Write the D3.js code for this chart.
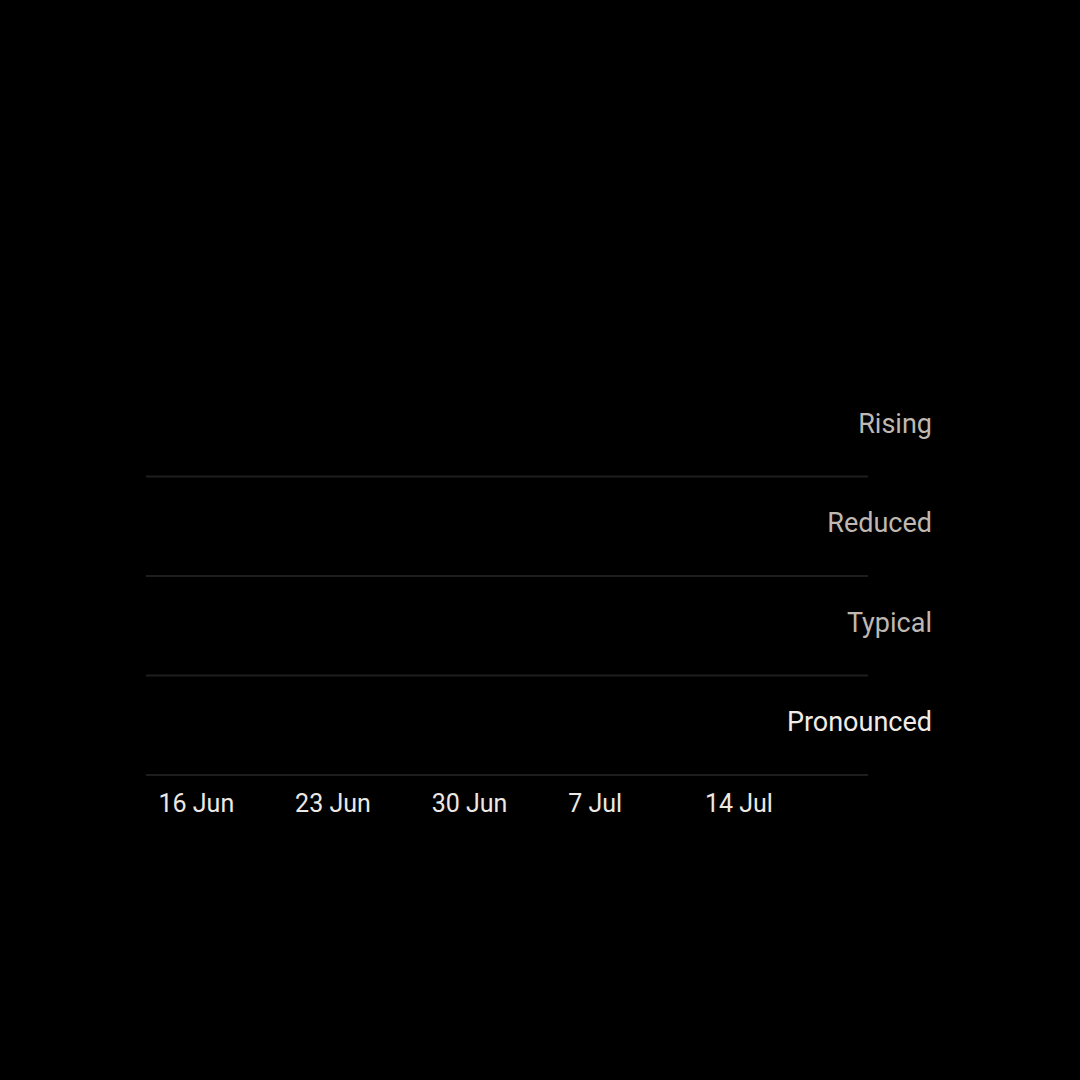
<!DOCTYPE html>
<html>
<head>
<meta charset="utf-8">
<script src="https://cdn.jsdelivr.net/npm/d3@7"></script>
<style>
  html, body { margin: 0; padding: 0; background: #000; }
  svg { display: block; }
</style>
</head>
<body>
<div id="chart"></div>
<script>
// categories, top to bottom
var categories = ["Rising", "Reduced", "Typical", "Pronounced"];
var highlighted = ["Pronounced"];

// time axis
var startDate = "2024-06-16";
var endDate = "2024-07-23";
var tickDates = ["2024-06-16", "2024-06-23", "2024-06-30", "2024-07-07", "2024-07-14"];

var width = 1080,
    height = 1080;

var parseDate = d3.timeParse("%Y-%m-%d");
var formatTick = d3.timeFormat("%-d %b");

var svg = d3.select("#chart")
  .append("svg")
  .attr("width", width)
  .attr("height", height)
  .style("background", "#000");

var x = d3.scaleTime()
  .domain([parseDate(startDate), parseDate(endDate)])
  .range([146, 868]);

var y = d3.scaleBand()
  .domain(categories)
  .range([377, 775])
  .padding(0);

// row separators at the bottom of each band
svg.append("g")
  .selectAll("line")
  .data(categories)
  .enter()
  .append("line")
  .attr("x1", x.range()[0])
  .attr("x2", x.range()[1])
  .attr("y1", d => y(d) + y.bandwidth())
  .attr("y2", d => y(d) + y.bandwidth())
  .style("stroke", "#1e1e1e")
  .style("stroke-width", 2);

// category labels on the right
svg.append("g")
  .selectAll("text")
  .data(categories)
  .enter()
  .append("text")
  .text(d => d)
  .attr("x", 932)
  .attr("y", d => y(d) + y.bandwidth() / 2)
  .attr("dy", "0.22em")
  .attr("text-anchor", "end")
  .attr("font-family", "Roboto, sans-serif")
  .attr("font-size", "27px")
  .attr("fill", d => highlighted.indexOf(d) >= 0 ? "#f0ece8" : "#bfb8b2");

// x axis
var xAxis = d3.axisBottom(x)
  .tickValues(tickDates.map(parseDate))
  .tickFormat(formatTick)
  .tickSize(0)
  .tickPadding(0);

var gx = svg.append("g")
  .attr("transform", "translate(0," + 775 + ")")
  .call(xAxis);

gx.select(".domain").remove();
gx.selectAll("text")
  .attr("text-anchor", "start")
  .attr("x", 12)
  .attr("y", 37)
  .attr("dy", 0)
  .attr("font-family", "Roboto, sans-serif")
  .attr("font-size", "25px")
  .attr("fill", "#ece8e4");
</script>
</body>
</html>
